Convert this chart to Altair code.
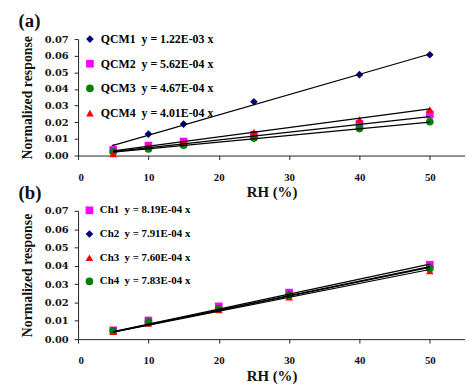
import altair as alt
import pandas as pd

# ---------------- data ----------------
rh_a = [5, 10, 15, 25, 40, 50]
qcm1 = [0.0046, 0.0129, 0.0189, 0.0323, 0.0486, 0.0606]
qcm2 = [0.0034, 0.0060, 0.0084, 0.0125, 0.0190, 0.0247]
qcm3 = [0.0022, 0.0040, 0.0062, 0.0105, 0.0162, 0.0203]
qcm4 = [0.0010, 0.0055, 0.0080, 0.0140, 0.0217, 0.0277]
labels_a = [
    "QCM1\u00a0\u00a0y = 1.22E-03 x",
    "QCM2\u00a0\u00a0y = 5.62E-04 x",
    "QCM3\u00a0\u00a0y = 4.67E-04 x",
    "QCM4\u00a0\u00a0y = 4.01E-04 x",
]
shapes_a = ["diamond", "square", "circle", "triangle-up"]
colors_a = ["#000080", "#FF00FF", "#008000", "#FF0000"]
line_slopes_a = [1.22e-3, 4.67e-4, 4.01e-4, 5.62e-4]

rh_b = [5, 10, 20, 30, 50]
ch1 = [0.0048, 0.0102, 0.0179, 0.0254, 0.0406]
ch2 = [0.0046, 0.0094, 0.0166, 0.0243, 0.0390]
ch3 = [0.0040, 0.0086, 0.0159, 0.0229, 0.0372]
ch4 = [0.0047, 0.0095, 0.0166, 0.0241, 0.0385]
labels_b = [
    "Ch1\u00a0\u00a0y = 8.19E-04 x",
    "Ch2\u00a0\u00a0y = 7.91E-04 x",
    "Ch3\u00a0\u00a0y = 7.60E-04 x",
    "Ch4\u00a0\u00a0y = 7.83E-04 x",
]
shapes_b = ["square", "diamond", "triangle-up", "circle"]
colors_b = ["#FF00FF", "#000080", "#FF0000", "#008000"]
line_slopes_b = [8.19e-4, 7.91e-4, 7.60e-4, 7.83e-4]

x_ticks = [0, 10, 20, 30, 40, 50]
y_ticks = [0.00, 0.01, 0.02, 0.03, 0.04, 0.05, 0.06, 0.07]

SERIF = "Liberation Serif"


def make_frames(rh, series, labels, slopes):
    pts = pd.DataFrame(
        [{"rh": x, "v": v, "s": lab} for vals, lab in zip(series, labels) for x, v in zip(rh, vals)]
    )
    lines = pd.DataFrame(
        [{"rh": x, "v": k * x, "s": lab} for k, lab in zip(slopes, labels) for x in (min(rh), max(rh))]
    )
    return pts, lines


def legend(lab_size, row_pad):
    return alt.Legend(title=None, orient="none", legendX=6, legendY=-6,
                      labelFont=SERIF, labelFontSize=lab_size, labelFontWeight="bold",
                      symbolSize=60, rowPadding=row_pad, labelOffset=5, padding=0,
                      symbolStrokeWidth=0, labelLimit=300)


def panel(rh, series, labels, shapes, colors, slopes, title, height, lab_size, row_pad):
    pts, lines = make_frames(rh, series, labels, slopes)
    xenc = alt.X(
        "rh:Q",
        scale=alt.Scale(domain=[0, 55], nice=False),
        axis=alt.Axis(values=x_ticks, title="RH (%)", labelFont=SERIF, labelFontSize=11,
                      labelFontWeight="bold", titleFont=SERIF, titleFontSize=15,
                      titleFontWeight="bold", labelPadding=12, titlePadding=3, tickSize=4,
                      labelOverlap=False),
    )
    yenc = alt.Y(
        "v:Q",
        scale=alt.Scale(domain=[0, 0.07], nice=False),
        axis=alt.Axis(values=y_ticks, format=".2f", title="Normalized response",
                      labelFont="DejaVu Serif", labelFontSize=10, labelFontWeight="bold",
                      titleFont=SERIF, titleFontSize=14, titleFontWeight="bold",
                      labelPadding=6, titlePadding=10, tickSize=4, labelOverlap=False),
    )
    points = alt.Chart(pts).mark_point(filled=True, size=60, opacity=1).encode(
        x=xenc,
        y=yenc,
        color=alt.Color("s:N", scale=alt.Scale(domain=labels, range=colors),
                        legend=legend(lab_size, row_pad)),
        shape=alt.Shape("s:N", scale=alt.Scale(domain=labels, range=shapes),
                        legend=legend(lab_size, row_pad)),
    )
    trend = alt.Chart(lines).mark_line(color="black", strokeWidth=1.2).encode(
        x=xenc, y=yenc, detail="s:N"
    )
    return alt.layer(points, trend).properties(
        width=392,
        height=height,
        title=alt.TitleParams(title, anchor="start", font=SERIF, fontSize=19,
                              fontWeight="bold", dx=-2, offset=2),
    )


pa = panel(rh_a, [qcm1, qcm2, qcm3, qcm4], labels_a, shapes_a, colors_a, line_slopes_a,
           "(a)", 118, 12, 13)
pb = panel(rh_b, [ch1, ch2, ch3, ch4], labels_b, shapes_b, colors_b, line_slopes_b,
           "(b)", 130, 11, 12)

chart = (
    alt.vconcat(pa, pb, spacing=-16)
    .resolve_scale(color="independent", shape="independent")
    .resolve_legend(color="independent", shape="independent")
    .properties(padding={"left": 10, "top": 2, "right": 0, "bottom": 0})
    .configure_view(stroke=None)
    .configure_axis(grid=False, domainColor="#222", tickColor="#222", labelColor="#111",
                    titleColor="#111", domainWidth=1)
    .configure_title(color="#111")
)

chart.save("out.html", embed_options={"renderer": "svg", "actions": False})
